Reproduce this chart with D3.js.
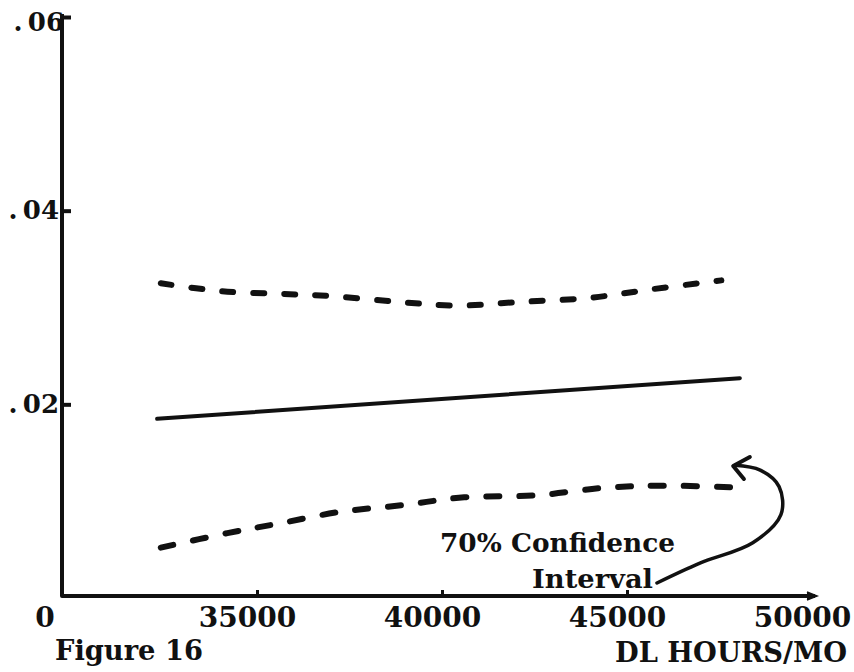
<!DOCTYPE html>
<html>
<head>
<meta charset="utf-8">
<script src="https://cdn.jsdelivr.net/npm/d3@7"></script>
<style>
  body { margin: 0; background: #fff; }
  text { font-family: "DejaVu Serif", serif; font-weight: bold; fill: #111; }
</style>
</head>
<body>
<div id="place"></div>
<script>
// valeurs
const yTicks = [0.02, 0.04, 0.06];
const yTickLabels = [".\u200902", ".\u200904", ".\u200906"];
const xTicks = [35000, 40000, 45000, 50000];
const xTickLabels = ["35000", "40000", "45000", "50000"];

// droite de regression
const xFit = [32300, 48050];
const yFit = [0.0185, 0.0227];

// borne haute (70%)
const xUpper = [32400, 34000, 35700, 36950, 38750, 40400, 42200, 44000, 45700, 47550];
const yUpper = [0.0325, 0.0317, 0.0314, 0.0312, 0.0306, 0.0302, 0.0306, 0.0310, 0.0319, 0.0328];

// borne basse (70%)
const xLower = [32400, 34200, 35600, 37250, 38950, 40600, 42550, 44450, 46100, 48050];
const yLower = [0.0052, 0.0067, 0.0077, 0.0089, 0.0096, 0.0104, 0.0106, 0.0114, 0.0116, 0.0114];

// fleche de l'annotation (en coordonnees des donnees)
const xArrow = [45810, 46970, 48400, 49160, 49110, 48600, 47920];
const yArrow = [0.00155, 0.0036, 0.0057, 0.0086, 0.0115, 0.0132, 0.0137];

const width = 854, height = 672;
const axisX = 62, axisY = 596;

let svg = d3.select("#place")
    .append("svg")
    .attr("width", width)
    .attr("height", height);

let x = d3.scaleLinear().domain([35000, 50000]).range([257, 812]);
let y = d3.scaleLinear().domain([0, 0.06]).range([598, 17]);

// axes (lignes principales)
svg.append("path")
    .attr("d", `M${axisX},14 L${axisX},${axisY} L815,${axisY}`)
    .attr("fill", "none")
    .attr("stroke", "#111")
    .attr("stroke-width", 4)
    .attr("stroke-linejoin", "round");

// petite fleche au bout de l'axe x
svg.append("path")
    .attr("d", `M807,${axisY - 4} L817,${axisY} L807,${axisY + 4}`)
    .attr("fill", "#111")
    .attr("stroke", "#111")
    .attr("stroke-width", 1.5);

let yAxis = svg.append("g")
    .attr("transform", `translate(${axisX},0)`)
    .call(d3.axisLeft(y)
        .tickValues(yTicks)
        .tickFormat((d, i) => yTickLabels[i])
        .tickSizeInner(-9)
        .tickSizeOuter(0)
        .tickPadding(3));
yAxis.select(".domain").remove();
yAxis.selectAll("line").attr("stroke", "#111").attr("stroke-width", 4);
yAxis.selectAll("text")
    .style("font-size", "26px")
    .style("font-family", "DejaVu Serif")
    .style("font-weight", "bold")
    .attr("fill", "#111");
yAxis.selectAll(".tick").filter(d => d === 0.06).select("text").attr("dy", "0.5em").attr("x", 2);

let xAxis = svg.append("g")
    .attr("transform", `translate(0,${axisY})`)
    .call(d3.axisBottom(x)
        .tickValues(xTicks)
        .tickFormat((d, i) => xTickLabels[i])
        .tickSizeInner(-6)
        .tickSizeOuter(0)
        .tickPadding(11));
xAxis.select(".domain").remove();
xAxis.selectAll("line").attr("stroke", "#111").attr("stroke-width", 3);
xAxis.selectAll(".tick").filter(d => d === 50000).select("line").remove();
xAxis.selectAll("text")
    .attr("dx", -10)
    .style("font-size", "28px")
    .style("font-family", "DejaVu Serif")
    .style("font-weight", "bold")
    .attr("fill", "#111");

svg.append("text")
    .attr("x", 45).attr("y", 627)
    .attr("text-anchor", "middle")
    .style("font-size", "28px")
    .text("0");

// courbes
let line = d3.line()
    .x(d => x(d[0]))
    .y(d => y(d[1]))
    .curve(d3.curveCatmullRom);

svg.append("path")
    .datum(d3.zip(xFit, yFit))
    .attr("d", line)
    .attr("fill", "none")
    .attr("stroke", "#111")
    .attr("stroke-width", 4)
    .attr("stroke-linecap", "round");

svg.append("path")
    .datum(d3.zip(xUpper, yUpper))
    .attr("d", line)
    .attr("fill", "none")
    .attr("stroke", "#111")
    .attr("stroke-width", 6)
    .attr("stroke-linecap", "round")
    .attr("stroke-dasharray", "11,20");

svg.append("path")
    .datum(d3.zip(xLower, yLower))
    .attr("d", line)
    .attr("fill", "none")
    .attr("stroke", "#111")
    .attr("stroke-width", 6)
    .attr("stroke-linecap", "round")
    .attr("stroke-dasharray", "13,20");

// annotation
svg.append("path")
    .datum(d3.zip(xArrow, yArrow))
    .attr("d", line)
    .attr("fill", "none")
    .attr("stroke", "#111")
    .attr("stroke-width", 3.5)
    .attr("stroke-linecap", "round");

let tip = [47870, 0.01363];
svg.append("path")
    .attr("d", d3.line()([
        [x(48320), y(0.01456)],
        [x(tip[0]), y(tip[1])],
        [x(48160), y(0.01229)]
    ]))
    .attr("fill", "none")
    .attr("stroke", "#111")
    .attr("stroke-width", 4)
    .attr("stroke-linecap", "round")
    .attr("stroke-linejoin", "round");

svg.append("text")
    .attr("x", 440).attr("y", 552)
    .attr("textLength", 235)
    .attr("lengthAdjust", "spacingAndGlyphs")
    .style("font-size", "26px")
    .text("70% Confidence");

svg.append("text")
    .attr("x", 532).attr("y", 588)
    .attr("textLength", 121)
    .attr("lengthAdjust", "spacingAndGlyphs")
    .style("font-size", "26px")
    .text("Interval");

svg.append("text")
    .attr("x", 55).attr("y", 660)
    .attr("textLength", 148)
    .attr("lengthAdjust", "spacingAndGlyphs")
    .style("font-size", "28px")
    .text("Figure 16");

svg.append("text")
    .attr("x", 615).attr("y", 662)
    .attr("textLength", 232)
    .attr("lengthAdjust", "spacingAndGlyphs")
    .style("font-size", "28px")
    .text("DL HOURS/MO");
</script>
</body>
</html>
